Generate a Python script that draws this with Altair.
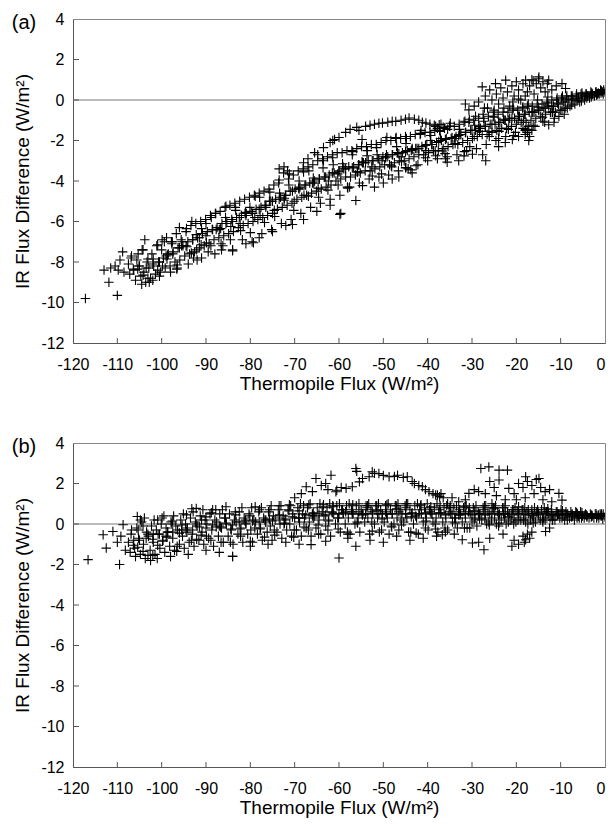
import altair as alt
import pandas as pd

x_ticks = [-120, -110, -100, -90, -80, -70, -60, -50, -40, -30, -20, -10, 0]
y_ticks = [-12, -10, -8, -6, -4, -2, 0, 2, 4]
x_title = "Thermopile Flux (W/m²)"
y_title = "IR Flux Difference (W/m²)"

# ---------------- panel (a) ----------------
a_band = [
    (-107.5,-8.1),(-107.2,-8.6),(-106.8,-7.7),(-106.3,-8.4),(-105.9,-8.9),(-105.6,-7.9),
    (-105.1,-8.2),(-104.7,-8.7),(-104.4,-7.4),(-104.0,-8.5),(-103.6,-9.0),(-103.3,-8.0),(-103.8,-6.9),
    (-102.9,-8.3),(-102.5,-8.8),(-102.2,-7.6),(-101.8,-8.2),(-101.4,-8.6),(-101.1,-7.2),
    (-100.7,-8.0),(-100.3,-8.5),(-100.0,-7.4),(-99.6,-7.8),(-99.2,-8.3),(-98.9,-6.8),(-99.4,-7.0),
    (-98.5,-7.6),(-98.1,-8.2),(-97.8,-7.0),(-97.4,-7.5),(-97.0,-8.0),(-96.7,-6.6),
    (-96.3,-7.3),(-95.9,-7.9),(-95.6,-6.9),(-96.0,-6.3),(-95.2,-7.2),(-94.8,-7.7),(-94.5,-6.5),
    (-94.1,-7.0),(-93.7,-7.6),(-93.4,-6.2),(-93.0,-6.9),(-92.6,-7.5),(-92.3,-6.1),(-92.8,-7.8),
    (-91.9,-6.8),(-91.5,-7.3),(-91.2,-6.0),(-90.8,-6.6),(-90.4,-7.2),(-90.1,-5.9),
    (-89.7,-6.5),(-89.3,-7.1),(-89.0,-5.7),(-89.5,-7.5),(-88.6,-6.4),(-88.2,-6.9),(-87.9,-5.6),
    (-87.5,-6.3),(-87.1,-6.8),(-86.8,-5.5),(-86.4,-6.1),(-86.0,-6.7),(-85.7,-5.3),(-86.2,-7.2),
    (-85.3,-6.0),(-84.9,-6.6),(-84.6,-5.2),(-84.2,-5.9),(-83.8,-6.5),(-83.5,-5.1),(-84.0,-7.4),
    (-83.1,-5.8),(-82.7,-6.3),(-82.4,-5.0),(-82.0,-5.7),(-81.6,-6.2),(-81.3,-4.9),(-81.8,-6.9),
    (-80.9,-5.6),(-80.5,-6.1),(-80.2,-4.8),(-79.8,-5.5),(-79.4,-6.0),(-79.1,-4.7),(-79.6,-7.0),
    (-78.7,-5.4),(-78.3,-5.9),(-78.0,-4.6),(-77.6,-5.3),(-77.2,-5.8),(-76.9,-4.5),(-77.4,-6.6),
    (-76.5,-5.2),(-76.1,-5.7),(-75.8,-4.4),(-75.4,-5.0),(-75.0,-5.6),(-74.7,-4.2),(-75.2,-6.4),
    (-74.3,-4.9),(-73.9,-5.4),(-73.6,-4.1),(-73.2,-4.8),(-72.8,-5.3),(-72.5,-3.6),(-73.0,-6.1),
    (-72.1,-4.7),(-71.7,-5.2),(-71.4,-3.9),(-71.0,-4.5),(-70.6,-5.1),(-70.3,-3.7),(-70.8,-5.9),
    (-69.9,-4.4),(-69.5,-4.9),(-69.2,-3.5),(-68.8,-4.3),(-68.4,-4.8),(-68.1,-3.4),(-68.6,-5.6),
    (-67.7,-4.2),(-67.3,-4.7),(-67.0,-3.3),(-66.6,-4.1),(-66.2,-4.6),(-65.9,-3.2),(-66.4,-5.3),
    (-65.5,-4.0),(-65.1,-4.5),(-64.8,-3.0),(-64.4,-3.9),(-64.0,-4.4),(-63.7,-2.9),(-64.2,-5.1),
    (-63.3,-3.8),(-62.9,-4.3),(-62.6,-2.8),(-62.2,-3.7),(-61.8,-4.2),(-61.5,-2.7),(-62.0,-4.9),
    (-61.1,-3.6),(-60.7,-4.0),(-60.4,-2.6),(-60.0,-3.5),(-59.6,-3.9),(-59.3,-2.6),(-59.8,-4.7),
    (-58.9,-3.4),(-58.5,-3.8),(-58.2,-2.5),(-57.8,-3.3),(-57.4,-3.8),(-57.1,-2.5),(-57.6,-4.3),
    (-56.7,-3.3),(-56.3,-3.7),(-56.0,-2.4),(-55.6,-3.2),(-55.2,-3.6),(-54.9,-2.3),(-55.4,-4.1),
    (-54.5,-3.1),(-54.1,-3.5),(-53.8,-2.3),(-53.4,-3.0),(-53.0,-3.5),(-52.7,-2.2),(-53.2,-3.9),
    (-52.3,-3.0),(-51.9,-3.4),(-51.6,-2.2),(-51.2,-2.9),(-50.8,-3.3),(-50.5,-2.1),(-51.0,-3.8),
    (-50.1,-2.8),(-49.7,-3.2),(-49.4,-2.0),(-49.0,-2.8),(-48.6,-3.2),(-48.3,-2.0),(-48.8,-3.7),
    (-47.9,-2.7),(-47.5,-3.1),(-47.2,-1.9),(-46.8,-2.6),(-46.4,-3.0),(-46.1,-1.9),(-46.6,-3.5),
    (-45.7,-2.6),(-45.3,-3.0),(-45.0,-1.8),(-44.6,-2.5),(-44.2,-2.9),(-43.9,-1.8),(-44.4,-3.4),
    (-43.5,-2.4),(-43.1,-2.8),(-42.8,-1.7),(-42.4,-2.4),(-42.0,-2.7),(-41.7,-1.7),(-42.2,-3.2),
    (-41.3,-2.3),(-40.9,-2.7),(-40.6,-1.6),(-40.2,-2.2),(-39.8,-2.6),(-39.5,-1.6),(-40.0,-3.0),
    (-39.1,-2.2),(-38.7,-2.5),(-38.4,-1.5),(-38.0,-2.1),(-37.6,-2.5),(-37.3,-1.5),(-37.8,-2.9),
    (-36.9,-2.0),(-36.5,-2.4),(-36.2,-1.4),(-35.8,-1.9),(-35.4,-2.3),(-35.1,-1.3),(-35.6,-2.8),
    (-34.7,-1.9),(-34.3,-2.2),(-34.0,-1.3),(-33.6,-1.8),(-33.2,-2.2),(-32.9,-1.2),(-33.4,-2.7),
    (-32.5,-1.7),(-32.1,-2.1),(-31.8,-1.1),(-31.4,-1.6),(-31.0,-2.0),(-30.7,-1.1),(-31.2,-2.5),
    (-30.3,-1.5),(-29.9,-1.9),(-29.6,-1.0),(-29.2,-1.5),(-28.8,-1.8),(-28.5,-0.9),(-29.0,-2.4),
    (-28.1,-1.4),(-27.7,-1.7),(-27.4,-0.9),(-27.0,-1.3),(-26.6,-1.7),(-26.3,-0.8),(-26.8,-2.2),
    (-25.9,-1.2),(-25.5,-1.6),(-25.2,-0.8),(-24.8,-1.2),(-24.4,-1.5),(-24.1,-0.7),(-24.6,-2.0),
    (-23.7,-1.1),(-23.3,-1.4),(-23.0,-0.6),(-22.6,-1.0),(-22.2,-1.4),(-21.9,-0.6),(-22.4,-1.8),
    (-21.5,-0.9),(-21.1,-1.3),(-20.8,-0.5),(-20.4,-0.9),(-20.0,-1.2),(-19.7,-0.5),(-20.2,-1.6),
    (-19.3,-0.8),(-18.9,-1.1),(-18.6,-0.4),(-18.2,-0.7),(-17.8,-1.1),(-17.5,-0.3),(-18.0,-1.5),
    (-17.1,-0.6),(-16.7,-1.0),(-16.4,-0.3),(-16.0,-0.6),(-15.6,-0.9),(-15.3,-0.2),(-15.8,-1.3),
    (-14.9,-0.5),(-14.5,-0.8),(-14.2,-0.2),(-13.8,-0.4),(-13.4,-0.7),(-13.1,-0.1),(-13.6,-1.1),
    (-12.7,-0.3),(-12.3,-0.6),(-12.0,0.0),(-11.6,-0.3),(-11.2,-0.6),(-10.9,0.0),(-11.4,-0.9),
    (-10.5,-0.2),(-10.1,-0.5),(-9.8,0.1),(-9.4,-0.1),(-9.0,-0.4),(-8.7,0.1),(-9.2,-0.7),
    (-8.3,0.0),(-7.9,-0.3),(-7.6,0.2),(-7.2,0.0),(-6.8,-0.2),(-6.5,0.2),
    (-6.1,0.1),(-5.7,-0.1),(-5.4,0.3),(-5.0,0.2),(-4.6,0.0),(-4.3,0.3),
    (-3.9,0.2),(-3.5,0.1),(-3.2,0.4),(-2.8,0.3),(-2.4,0.2),(-2.1,0.4),
    (-1.7,0.3),(-1.3,0.3),(-1.0,0.5),(-0.6,0.4),(-0.3,0.5),(0.0,0.4),(-0.4,0.3),
]
a_band2 = [
    (-106.9,-7.8),(-105.4,-8.35),(-104.2,-7.4),(-103.1,-8.8),(-101.9,-7.85),(-100.9,-8.4),
    (-99.9,-6.9),(-98.8,-7.85),(-97.7,-7.1),(-96.6,-8.35),(-95.5,-7.2),(-94.4,-6.35),
    (-93.3,-7.55),(-92.2,-6.65),(-91.1,-7.15),(-90.0,-6.1),(-88.9,-7.2),(-87.8,-5.6),
    (-86.7,-6.35),(-85.6,-5.8),(-84.5,-6.9),(-83.4,-5.3),(-82.3,-6.1),(-81.2,-5.6),
    (-80.1,-5.3),(-79.0,-5.8),(-77.9,-4.8),(-76.8,-6.05),(-75.7,-5.0),(-74.6,-5.45),
    (-73.5,-3.95),(-72.4,-4.95),(-71.3,-4.2),(-70.2,-5.45),(-69.1,-4.35),(-68.0,-3.55),
    (-66.9,-4.75),(-65.8,-3.85),(-64.7,-4.35),(-63.6,-3.35),(-62.5,-4.45),(-61.4,-2.85),
    (-60.3,-3.65),(-59.2,-3.15),(-58.1,-4.3),(-57.0,-2.7),(-55.9,-3.55),(-54.8,-3.05),
    (-53.7,-2.75),(-52.6,-3.3),(-51.5,-2.35),(-50.4,-3.65),(-49.3,-2.7),(-48.2,-3.25),
    (-47.1,-1.85),(-46.0,-2.8),(-44.9,-2.15),(-43.8,-3.45),(-42.7,-2.4),(-41.6,-1.65),
    (-40.5,-2.85),(-39.4,-2.0),(-38.3,-2.5),(-37.2,-1.55),(-36.1,-2.65),(-35.0,-1.3),
    (-33.9,-1.9),(-32.8,-1.45),(-31.7,-2.55),(-30.6,-0.95),(-29.5,-1.8),(-28.4,-1.3),
    (-27.3,-1.05),(-26.2,-1.55),(-25.1,-0.6),(-24.0,-1.9),(-22.9,-0.95),(-21.8,-1.45),
    (-20.7,-0.4),(-19.6,-1.0),(-18.5,-0.35),(-17.4,-1.45),(-16.3,-0.6),(-15.2,0.0),
    (-14.1,-0.85),(-13.0,-0.15),(-11.9,-0.6),(-10.8,0.1),(-9.7,-0.5),(-8.6,0.2),
    (-7.5,-0.25),(-6.4,0.3),(-5.3,-0.05),(-4.2,0.3),(-3.1,0.15),(-2.0,0.4),(-0.9,0.35),
]
a_band3 = [
    (-106.4,-8.35),(-105.3,-7.6),(-104.2,-8.65),(-103.1,-7.85),(-102.0,-8.9),(-100.9,-7.15),
    (-99.8,-8.2),(-98.7,-7.65),(-97.6,-7.0),(-96.5,-8.15),(-95.4,-7.0),(-94.3,-7.25),
    (-93.2,-6.0),(-92.1,-7.4),(-91.0,-6.35),(-89.9,-7.05),(-88.8,-5.8),(-87.7,-6.4),
    (-86.6,-7.1),(-85.5,-5.25),(-84.4,-6.25),(-83.3,-5.45),(-82.2,-6.45),(-81.1,-5.55),
    (-80.0,-6.55),(-78.9,-4.75),(-77.8,-5.7),(-76.7,-5.2),(-75.6,-4.55),(-74.5,-5.75),
    (-73.4,-4.6),(-72.3,-4.85),(-71.2,-3.65),(-70.1,-5.0),(-69.0,-4.0),(-67.9,-4.7),
    (-66.8,-3.5),(-65.7,-4.1),(-64.6,-4.8),(-63.5,-3.0),(-62.4,-4.0),(-61.3,-3.2),
    (-60.2,-4.2),(-59.1,-3.3),(-58.0,-4.35),(-56.9,-2.55),(-55.8,-3.55),(-54.7,-3.1),
    (-53.6,-2.5),(-52.5,-3.75),(-51.4,-2.7),(-50.3,-3.0),(-49.2,-1.85),(-48.1,-3.3),
    (-47.0,-2.3),(-45.9,-3.05),(-44.8,-1.9),(-43.7,-2.5),(-42.6,-3.25),(-41.5,-1.5),
    (-40.4,-2.5),(-39.3,-1.75),(-38.2,-2.75),(-37.1,-1.9),(-36.0,-2.9),(-34.9,-1.15),
    (-33.8,-2.15),(-32.7,-1.7),(-31.6,-1.05),(-30.5,-2.3),(-29.4,-1.25),(-28.3,-1.55),
    (-27.2,-0.4),(-26.1,-1.8),(-25.0,-0.85),(-23.9,-1.55),(-22.8,-0.4),(-21.7,-1.0),
    (-20.6,-1.75),(-19.5,0.05),(-18.4,-1.0),(-17.3,-0.2),(-16.2,-1.25),(-15.1,-0.35),
    (-14.0,-1.05),(-12.9,0.15),(-11.8,-0.6),(-10.7,-0.15),(-9.6,0.2),(-8.5,-0.4),
    (-7.4,0.2),(-6.3,-0.05),(-5.2,0.35),(-4.1,0.1),(-3.0,0.35),(-1.9,0.25),(-0.8,0.45),
]
a_core = [
    (-105.0,-8.2),(-103.5,-8.3),(-102.0,-8.1),(-100.5,-8.0),(-99.0,-7.7),(-97.5,-7.6),
    (-96.0,-7.3),(-94.5,-7.2),(-93.0,-6.9),(-91.5,-6.8),(-90.0,-6.7),(-88.5,-6.4),
    (-87.0,-6.4),(-85.5,-6.1),(-84.0,-6.0),(-82.5,-5.8),(-81.0,-5.7),(-79.5,-5.6),
    (-78.0,-5.4),(-76.5,-5.3),(-75.0,-5.0),(-73.5,-4.9),(-72.0,-4.7),(-70.5,-4.5),
    (-69.0,-4.4),(-67.5,-4.2),(-66.0,-4.1),(-64.5,-3.9),(-63.0,-3.8),(-61.5,-3.6),
    (-60.0,-3.55),(-58.5,-3.4),(-57.0,-3.35),(-55.5,-3.2),(-54.0,-3.1),(-52.5,-3.0),
    (-51.0,-2.9),(-49.5,-2.85),(-48.0,-2.7),(-46.5,-2.65),(-45.0,-2.55),(-43.5,-2.45),
    (-42.0,-2.4),(-40.5,-2.25),(-39.0,-2.2),(-37.5,-2.05),(-36.0,-1.95),(-34.5,-1.85),
    (-33.0,-1.75),(-31.5,-1.6),(-30.0,-1.5),(-28.5,-1.4),(-27.0,-1.3),(-25.5,-1.2),
    (-24.0,-1.1),(-22.5,-1.0),(-21.0,-0.9),(-19.5,-0.8),(-18.0,-0.7),(-16.5,-0.6),
    (-15.0,-0.5),(-13.5,-0.4),(-12.0,-0.3),(-10.5,-0.2),(-9.0,-0.1),(-7.5,0.05),
    (-6.0,0.1),(-4.5,0.2),(-3.0,0.25),(-1.5,0.35),
]
a_outliers = [
    (-117.2,-9.8),(-110.0,-9.65),(-111.9,-9.0),(-113.0,-8.4),(-111.5,-8.3),(-110.5,-8.2),
    (-109.4,-7.9),(-108.8,-7.5),(-108.5,-8.5),(-109.8,-8.4),
    (-104.5,-9.1),(-102.8,-9.0),(-100.5,-8.7),(-96.5,-8.3),(-91.0,-7.8),(-86.5,-7.4),
    (-79.3,-7.05),(-72.0,-6.2),(-59.8,-5.65),(-56.2,-4.96),(-54.7,-4.23),(-45.0,-3.35),
    (-73.5,-3.4),(-72.4,-3.3),(-71.6,-3.5),(-61.4,-2.0),
    (-29.9,-2.68),(-26.9,-3.0),(-27.6,-2.7),(-31.8,-2.76),(-33.0,-3.0),(-35.6,-3.07),
    (-36.7,-2.52),(-44.9,-3.33),(-43.5,-3.6),(-24.0,-2.3),(-22.5,-2.1),(-59.6,-5.6),
    (-52.0,-4.3),(-50.0,-4.1),(-48.0,-3.9),(-46.5,-3.8),(-62.0,-5.2),(-65.0,-5.5),
    (-68.0,-5.9),(-70.5,-6.15),(-75.0,-6.5),(-78.0,-6.8),(-81.0,-7.1),(-84.0,-7.45),
    (-88.0,-7.6),(-92.0,-7.9),(-94.0,-8.1),(-98.0,-8.5),
]
a_hump = [
    (-68.0,-3.1),(-67.0,-2.9),(-65.5,-2.6),(-64.8,-2.7),(-63.5,-2.35),(-62.0,-2.1),
    (-61.0,-1.95),(-60.0,-1.85),(-58.5,-1.6),(-57.5,-1.45),(-56.0,-1.35),(-55.5,-1.5),
    (-54.8,-1.95),(-54.0,-1.3),(-53.0,-1.25),(-52.0,-1.2),(-51.0,-1.15),(-50.2,-1.14),
    (-49.0,-1.1),(-48.0,-1.05),(-47.2,-1.06),(-46.0,-1.0),(-45.0,-0.95),(-44.2,-0.89),
    (-43.0,-0.95),(-42.0,-1.0),(-41.2,-1.1),(-40.4,-1.14),(-39.5,-1.2),(-38.5,-1.25),
    (-37.4,-1.22),(-36.5,-1.35),(-35.5,-1.45),(-37.8,-1.4),(-38.2,-1.3),(-37.0,-1.2),
]
a_cluster = [
    (-31.5,-0.2),(-30.7,-0.49),(-29.5,-0.3),(-29.2,-0.8),(-28.5,-0.1),(-27.7,0.65),
    (-27.0,0.2),(-26.5,-0.4),(-26.0,0.5),(-25.5,0.0),(-24.7,0.81),(-24.5,0.3),
    (-24.0,-0.2),(-23.5,0.6),(-23.0,0.1),(-22.4,0.98),(-22.0,0.4),(-21.5,-0.3),
    (-21.0,0.7),(-20.5,0.2),(-20.0,0.9),(-19.5,0.5),(-19.0,0.0),(-18.5,0.8),
    (-17.9,0.98),(-17.5,0.4),(-17.0,0.7),(-16.5,1.0),(-16.0,0.3),(-15.5,0.8),
    (-14.9,1.14),(-14.5,0.6),(-14.0,0.9),(-13.5,0.4),(-13.0,0.8),(-12.7,0.98),
    (-12.0,0.5),(-11.0,0.7),(-9.7,0.81),(-8.9,0.57),(-15.0,1.05),(-16.2,0.95),
    (-18.0,0.2),(-20.8,-0.1),(-25.0,-0.5),(-27.5,-0.7),
    (-18.5,-1.4),(-17.9,-1.46),(-17.5,-1.6),(-17.0,-1.8),(-16.5,-1.5),(-18.0,-1.7),
    (-17.2,-1.3),(-20.9,-1.95),(-17.2,-2.0),(-12.7,-1.22),(-10.4,-0.81),(-11.5,-1.1),
    (-19.5,-1.8),
]

# ---------------- panel (b) ----------------
b_band = [
    (-107.5,-0.9),(-107.1,-1.4),(-106.8,-0.3),(-106.3,-0.8),(-105.9,-1.6),(-105.6,-0.2),(-106.1,-1.2),
    (-105.2,-0.7),(-104.8,-1.5),(-104.5,0.1),(-104.1,-1.0),(-103.7,-1.7),(-103.4,-0.4),(-103.9,0.3),
    (-103.0,-0.6),(-102.6,-1.3),(-102.3,-0.1),(-101.9,-0.9),(-101.5,-1.5),(-101.2,-0.3),(-101.7,0.2),
    (-100.8,-0.5),(-100.4,-1.2),(-100.1,0.0),(-99.7,-0.8),(-99.3,-1.4),(-99.0,-0.2),(-99.5,0.4),
    (-98.6,-0.4),(-98.2,-1.1),(-97.9,0.1),(-97.5,-0.7),(-97.1,-1.3),(-96.8,-0.1),(-97.3,0.4),
    (-96.4,-0.3),(-96.0,-1.0),(-95.7,0.2),(-95.3,-0.6),(-94.9,-1.2),(-94.6,0.0),(-95.1,0.5),
    (-94.2,-0.2),(-93.8,-0.9),(-93.5,0.3),(-93.1,-0.5),(-92.7,-1.1),(-92.4,0.1),(-92.9,0.6),
    (-92.0,-0.1),(-91.6,-0.8),(-91.3,0.4),(-90.9,-0.4),(-90.5,-1.0),(-90.2,0.2),(-90.7,0.7),
    (-89.8,0.0),(-89.4,-0.7),(-89.1,0.5),(-88.7,-0.3),(-88.3,-1.1),(-88.0,0.2),(-88.5,0.7),
    (-87.6,0.1),(-87.2,-0.6),(-86.9,0.5),(-86.5,-0.2),(-86.1,-0.9),(-85.8,0.3),(-86.3,0.7),
    (-85.4,0.0),(-85.0,-0.6),(-84.7,0.5),(-84.3,-0.3),(-83.9,-1.0),(-83.6,0.2),(-84.0,-1.6),
    (-83.2,0.1),(-82.8,-0.5),(-82.5,0.6),(-82.1,-0.2),(-81.7,-0.9),(-81.4,0.3),(-81.9,0.8),
    (-81.0,0.0),(-80.6,-0.5),(-80.3,0.5),(-79.9,-0.3),(-79.5,-0.9),(-79.2,0.2),(-79.7,0.8),
    (-78.8,0.1),(-78.4,-0.5),(-78.1,0.6),(-77.7,-0.2),(-77.3,-0.8),(-77.0,0.3),(-77.5,0.8),
    (-76.6,0.1),(-76.2,-0.4),(-75.9,0.6),(-75.5,-0.1),(-75.1,-0.8),(-74.8,0.4),(-75.3,0.9),
    (-74.4,0.2),(-74.0,-0.4),(-73.7,0.7),(-73.3,0.0),(-72.9,-0.7),(-72.6,0.4),(-73.1,0.9),
    (-72.2,0.2),(-71.8,-0.3),(-71.5,0.7),(-71.1,0.0),(-70.7,-0.6),(-70.4,0.5),(-70.9,0.9),
    (-70.0,0.3),(-69.6,-0.3),(-69.3,0.8),(-68.9,0.1),(-68.5,-0.6),(-68.2,0.5),(-68.7,1.0),
    (-67.8,0.3),(-67.4,-0.2),(-67.1,0.8),(-66.7,0.1),(-66.3,-0.6),(-66.0,0.5),(-66.5,1.0),
    (-65.6,0.4),(-65.2,-0.2),(-64.9,0.8),(-64.5,0.2),(-64.1,-0.5),(-63.8,0.6),(-64.3,1.0),
    (-63.4,0.4),(-63.0,-0.1),(-62.7,0.8),(-62.3,0.2),(-61.9,-0.6),(-61.6,0.6),(-62.1,1.0),
    (-61.2,0.5),(-60.8,0.0),(-60.5,0.9),(-60.1,0.3),(-59.7,-0.4),(-59.4,0.7),(-59.9,1.0),
    (-59.0,0.5),(-58.6,0.0),(-58.3,0.9),(-57.9,0.3),(-57.5,-0.5),(-57.2,0.7),(-57.7,1.0),
    (-56.8,0.5),(-56.4,0.0),(-56.1,0.9),(-55.7,0.3),(-55.3,-0.4),(-55.0,0.7),(-55.5,1.0),
    (-54.6,0.5),(-54.2,0.1),(-53.9,0.9),(-53.5,0.3),(-53.1,-0.5),(-52.8,0.7),(-53.3,1.0),
    (-52.4,0.5),(-52.0,0.0),(-51.7,0.9),(-51.3,0.3),(-50.9,-0.4),(-50.6,0.7),(-51.1,1.0),
    (-50.2,0.5),(-49.8,0.1),(-49.5,0.9),(-49.1,0.3),(-48.7,-0.5),(-48.4,0.7),(-48.9,1.0),
    (-48.0,0.5),(-47.6,0.0),(-47.3,0.9),(-46.9,0.3),(-46.5,-0.3),(-46.2,0.7),(-46.7,1.0),
    (-45.8,0.5),(-45.4,0.1),(-45.1,0.9),(-44.7,0.3),(-44.3,-0.4),(-44.0,0.7),(-44.5,1.0),
    (-43.6,0.5),(-43.2,0.0),(-42.9,0.9),(-42.5,0.3),(-42.1,-0.5),(-41.8,0.7),(-42.3,1.0),
    (-41.4,0.5),(-41.0,0.1),(-40.7,0.8),(-40.3,0.3),(-39.9,-0.3),(-39.6,0.7),(-40.1,1.0),
    (-39.2,0.5),(-38.8,0.1),(-38.5,0.8),(-38.1,0.3),(-37.7,-0.4),(-37.4,0.7),(-37.9,1.0),
    (-37.0,0.5),(-36.6,0.1),(-36.3,0.8),(-35.9,0.3),(-35.5,-0.3),(-35.2,0.6),(-35.7,0.9),
    (-34.8,0.5),(-34.4,0.1),(-34.1,0.8),(-33.7,0.3),(-33.3,-0.2),(-33.0,0.6),(-33.5,0.9),
    (-32.6,0.5),(-32.2,0.1),(-31.9,0.8),(-31.5,0.3),(-31.1,-0.2),(-30.8,0.6),(-31.3,0.9),
    (-30.4,0.5),(-30.0,0.1),(-29.7,0.8),(-29.3,0.3),(-28.9,-0.1),(-28.6,0.6),(-29.1,0.9),
    (-28.2,0.5),(-27.8,0.2),(-27.5,0.8),(-27.1,0.3),(-26.7,0.0),(-26.4,0.6),(-26.9,0.9),
    (-26.0,0.5),(-25.6,0.2),(-25.3,0.8),(-24.9,0.3),(-24.5,0.0),(-24.2,0.6),(-24.7,0.9),
    (-23.8,0.5),(-23.4,0.2),(-23.1,0.8),(-22.7,0.3),(-22.3,0.0),(-22.0,0.6),(-22.5,0.9),
    (-21.6,0.5),(-21.2,0.2),(-20.9,0.7),(-20.5,0.3),(-20.1,0.1),(-19.8,0.6),(-20.3,0.8),
    (-19.4,0.5),(-19.0,0.2),(-18.7,0.7),(-18.3,0.3),(-17.9,0.1),(-17.6,0.6),(-18.1,0.8),
    (-17.2,0.5),(-16.8,0.2),(-16.5,0.7),(-16.1,0.3),(-15.7,0.1),(-15.4,0.6),(-15.9,0.8),
    (-15.0,0.5),(-14.6,0.2),(-14.3,0.7),(-13.9,0.3),(-13.5,0.2),(-13.2,0.6),(-13.7,0.8),
    (-12.8,0.5),(-12.4,0.3),(-12.1,0.7),(-11.7,0.4),(-11.3,0.2),(-11.0,0.6),
    (-10.6,0.5),(-10.2,0.3),(-9.9,0.7),(-9.5,0.4),(-9.1,0.2),(-8.8,0.6),
    (-8.4,0.5),(-8.0,0.3),(-7.7,0.6),(-7.3,0.4),(-6.9,0.2),(-6.6,0.6),
    (-6.2,0.5),(-5.8,0.3),(-5.5,0.6),(-5.1,0.4),(-4.7,0.3),(-4.4,0.5),
    (-4.0,0.4),(-3.6,0.3),(-3.3,0.5),(-2.9,0.4),(-2.5,0.3),(-2.2,0.5),
    (-1.8,0.4),(-1.4,0.3),(-1.1,0.5),(-0.7,0.4),(-0.4,0.5),(0.0,0.35),(-0.5,0.25),
]
b_band2 = [
    (-106.9,-0.5),(-105.4,-1.15),(-104.2,-0.1),(-103.1,-1.55),(-101.9,-0.5),(-100.9,-1.05),
    (-99.9,0.3),(-98.8,-0.65),(-97.7,0.0),(-96.6,-1.35),(-95.5,-0.3),(-94.4,0.45),
    (-93.3,-0.8),(-92.2,0.0),(-91.1,-0.55),(-90.0,0.35),(-88.9,-0.8),(-87.8,0.7),
    (-86.7,-0.15),(-85.6,0.3),(-84.5,-0.9),(-83.4,0.6),(-82.3,-0.25),(-81.2,0.15),
    (-80.1,0.4),(-79.0,-0.2),(-77.9,0.7),(-76.8,-0.65),(-75.7,0.25),(-74.6,-0.3),
    (-73.5,0.9),(-72.4,0.0),(-71.3,0.65),(-70.2,-0.65),(-69.1,0.3),(-68.0,0.9),
    (-66.9,-0.3),(-65.8,0.55),(-64.7,-0.05),(-63.6,0.85),(-62.5,-0.3),(-61.4,0.9),
    (-60.3,0.3),(-59.2,0.7),(-58.1,-0.4),(-57.0,0.6),(-55.9,0.1),(-54.8,0.5),
    (-53.7,0.8),(-52.6,0.1),(-51.5,0.9),(-50.4,-0.3),(-49.3,0.5),(-48.2,-0.1),
    (-47.1,0.9),(-46.0,0.2),(-44.9,0.8),(-43.8,-0.4),(-42.7,0.4),(-41.6,0.9),
    (-40.5,-0.2),(-39.4,0.6),(-38.3,0.0),(-37.2,0.9),(-36.1,-0.2),(-35.0,0.8),
    (-33.9,0.3),(-32.8,0.7),(-31.7,-0.2),(-30.6,0.8),(-29.5,0.2),(-28.4,0.5),
    (-27.3,0.7),(-26.2,0.1),(-25.1,0.8),(-24.0,-0.1),(-22.9,0.5),(-21.8,0.1),
    (-20.7,0.7),(-19.6,0.2),(-18.5,0.7),(-17.4,0.0),(-16.3,0.4),(-15.2,0.7),
    (-14.1,0.2),(-13.0,0.6),(-11.9,0.2),(-10.8,0.6),(-9.7,0.3),(-8.6,0.5),
    (-7.5,0.35),(-6.4,0.55),(-5.3,0.3),(-4.2,0.45),(-3.1,0.35),(-2.0,0.5),(-0.9,0.4),
]
b_band3 = [
    (-106.4,-1.05),(-105.3,-0.3),(-104.2,-1.35),(-103.1,-0.5),(-102.0,-1.55),(-100.9,0.2),
    (-99.8,-0.85),(-98.7,-0.4),(-97.6,0.15),(-96.5,-1.1),(-95.4,-0.05),(-94.3,-0.4),
    (-93.2,0.75),(-92.1,-0.75),(-91.0,0.2),(-89.9,-0.6),(-88.8,0.55),(-87.7,-0.15),
    (-86.6,-0.9),(-85.5,0.85),(-84.4,-0.25),(-83.3,0.45),(-82.2,-0.6),(-81.1,0.2),
    (-80.0,-0.85),(-78.9,0.85),(-77.8,-0.25),(-76.7,0.2),(-75.6,0.7),(-74.5,-0.55),
    (-73.4,0.45),(-72.3,0.05),(-71.2,0.95),(-70.1,-0.3),(-69.0,0.65),(-67.9,-0.15),
    (-66.8,0.95),(-65.7,0.3),(-64.6,-0.5),(-63.5,0.95),(-62.4,0.15),(-61.3,0.85),
    (-60.2,-0.25),(-59.1,0.55),(-58.0,-0.5),(-56.9,0.95),(-55.8,0.05),(-54.7,0.45),
    (-53.6,0.9),(-52.5,-0.35),(-51.4,0.65),(-50.3,0.25),(-49.2,0.95),(-48.1,-0.15),
    (-47.0,0.75),(-45.9,-0.05),(-44.8,1.0),(-43.7,0.35),(-42.6,-0.45),(-41.5,0.95),
    (-40.4,0.15),(-39.3,0.85),(-38.2,-0.25),(-37.1,0.55),(-36.0,-0.4),(-34.9,0.9),
    (-33.8,0.05),(-32.7,0.45),(-31.6,0.85),(-30.5,-0.2),(-29.4,0.65),(-28.3,0.25),
    (-27.2,0.9),(-26.1,-0.05),(-25.0,0.75),(-23.9,0.05),(-22.8,0.8),(-21.7,0.35),
    (-20.6,0.0),(-19.5,0.85),(-18.4,0.2),(-17.3,0.7),(-16.2,0.05),(-15.1,0.55),
    (-14.0,0.1),(-12.9,0.75),(-11.8,0.2),(-10.7,0.45),(-9.6,0.65),(-8.5,0.2),
    (-7.4,0.5),(-6.3,0.3),(-5.2,0.55),(-4.1,0.35),(-3.0,0.45),(-1.9,0.3),(-0.8,0.5),
]
b_core = [
    (-105.0,-0.8),(-103.5,-0.7),(-102.0,-0.75),(-100.5,-0.5),(-99.0,-0.6),(-97.5,-0.4),
    (-96.0,-0.45),(-94.5,-0.3),(-93.0,-0.3),(-91.5,-0.15),(-90.0,-0.2),(-88.5,-0.05),
    (-87.0,-0.1),(-85.5,0.05),(-84.0,-0.05),(-82.5,0.1),(-81.0,0.05),(-79.5,0.15),
    (-78.0,0.1),(-76.5,0.2),(-75.0,0.15),(-73.5,0.3),(-72.0,0.25),(-70.5,0.35),
    (-69.0,0.3),(-67.5,0.45),(-66.0,0.4),(-64.5,0.5),(-63.0,0.45),(-61.5,0.55),
    (-60.0,0.5),(-58.5,0.6),(-57.0,0.5),(-55.5,0.6),(-54.0,0.5),(-52.5,0.6),
    (-51.0,0.5),(-49.5,0.6),(-48.0,0.5),(-46.5,0.6),(-45.0,0.5),(-43.5,0.55),
    (-42.0,0.5),(-40.5,0.55),(-39.0,0.5),(-37.5,0.55),(-36.0,0.45),(-34.5,0.5),
    (-33.0,0.45),(-31.5,0.5),(-30.0,0.45),(-28.5,0.5),(-27.0,0.45),(-25.5,0.5),
    (-24.0,0.45),(-22.5,0.5),(-21.0,0.45),(-19.5,0.5),(-18.0,0.45),(-16.5,0.5),
    (-15.0,0.45),(-13.5,0.5),(-12.0,0.45),(-10.5,0.5),(-9.0,0.45),(-7.5,0.45),
    (-6.0,0.4),(-4.5,0.45),(-3.0,0.4),(-1.5,0.45),
]
b_outliers = [
    (-116.6,-1.76),(-109.5,-2.0),(-112.5,-1.19),(-113.2,-0.53),(-111.0,-0.37),(-108.7,-0.04),
    (-110.0,-0.9),(-109.2,-0.6),(-108.2,-1.3),(-105.5,0.37),(-104.8,0.2),(-92.2,0.77),
    (-84.0,-1.6),(-60.0,-1.68),(-66.3,-1.02),(-56.2,-1.1),(-63.0,-0.85),(-36.7,-0.53),
    (-32.2,-0.78),(-29.9,-0.94),(-27.3,-1.27),(-28.5,-0.9),(-26.0,-0.7),(-23.0,-0.5),
    (-20.5,-0.8),(-18.5,-0.6),(-17.9,-0.78),(-18.2,-0.9),(-17.5,-0.5),(-17.0,-0.7),
    (-16.5,-0.4),(-19.5,-1.0),(-21.0,-1.1),(-13.4,-0.37),(-12.5,-0.2),(-101.0,-1.7),
    (-102.5,-1.8),(-98.0,-1.6),(-94.0,-1.5),(-90.0,-1.3),(-87.0,-1.4),(-80.0,-1.1),
    (-76.0,-1.0),(-72.0,-0.9),(-69.0,-1.0),(-58.0,-0.7),(-53.0,-0.8),(-50.0,-0.9),
    (-47.0,-0.6),(-44.0,-0.8),(-41.0,-0.7),(-38.0,-0.6),(-34.0,-0.5),
]
b_hump = [
    (-67.4,1.84),(-66.0,1.6),(-65.2,2.25),(-64.0,1.9),(-63.0,2.0),(-61.8,2.41),(-60.7,1.59),
    (-60.5,1.67),(-59.5,1.8),(-58.4,1.76),(-57.0,1.84),(-56.2,2.74),(-56.0,2.6),(-55.4,2.08),
    (-54.7,2.25),(-53.2,2.33),(-52.5,2.58),(-52.0,2.5),(-51.0,2.49),(-50.0,2.4),(-48.7,2.33),
    (-47.5,2.35),(-46.8,2.41),(-45.5,2.3),(-44.6,2.33),(-43.5,2.1),(-43.0,2.0),(-42.0,1.9),
    (-41.2,1.84),(-40.5,1.7),(-39.7,1.59),(-38.8,1.5),(-38.2,1.43),(-37.8,1.43),(-37.3,1.35),
    (-37.0,1.5),(-36.5,1.3),(-70.0,1.3),(-68.5,1.5),(-62.5,1.7),
]
b_cluster = [
    (-28.0,2.74),(-26.2,2.82),(-23.9,2.66),(-22.0,2.66),(-17.9,2.33),(-14.9,2.25),(-23.9,2.17),
    (-30.7,1.51),(-29.5,1.7),(-28.5,1.6),(-27.0,1.5),(-26.0,2.1),(-25.0,1.8),(-24.5,1.4),
    (-21.7,1.76),(-20.5,1.5),(-19.5,2.0),(-18.5,1.8),(-17.5,2.1),(-16.5,1.9),(-16.0,1.5),
    (-15.5,2.2),(-14.5,1.8),(-13.5,1.6),(-12.5,1.7),(-10.4,1.51),(-9.7,1.18),(-20.0,1.2),
    (-22.5,1.2),(-18.0,1.3),(-14.0,1.2),(-12.0,1.1),(-25.5,1.0),(-31.5,1.2),(-33.0,1.1),
    (-34.5,1.3),(-35.5,1.0),
]

W = 532
PLUS = "M-1,0L1,0M0,-1L0,1"
FONT = "Liberation Sans"


def panel(points, label, H):
    df = pd.DataFrame(points, columns=["flux", "diff"])
    xs = alt.Scale(domain=[-120, 0], nice=False, zero=False)
    ys = alt.Scale(domain=[-12, 4], nice=False, zero=False)
    xax = alt.Axis(values=x_ticks, title=x_title, ticks=False, grid=False,
                   labelPadding=13, titlePadding=2, labelFlush=False,
                   labelExpr="'' + datum.value",
                   labelAlign={"condition": {"test": "datum.value == 0", "value": "right"},
                               "value": "center"})
    yax = alt.Axis(values=y_ticks, title=y_title, ticks=False, grid=False,
                   labelPadding=9, titlePadding=8, labelExpr="'' + datum.value")
    zero = alt.Chart(pd.DataFrame({"diff": [0]})).mark_rule(
        color="#777", strokeWidth=1).encode(y=alt.Y("diff:Q", scale=ys, axis=yax))
    pts = alt.Chart(df).mark_point(
        shape=PLUS, size=90, filled=False, color="black", strokeWidth=1.1,
        opacity=1, clip=True
    ).encode(
        x=alt.X("flux:Q", scale=xs, axis=xax),
        y=alt.Y("diff:Q", scale=ys, axis=yax),
    )
    xt = alt.Chart(pd.DataFrame({"flux": x_ticks[1:-1]})).mark_rule(
        color="#555").encode(x=alt.X("flux:Q", scale=xs, axis=xax),
                             y=alt.value(H), y2=alt.value(H - 5))
    yt = alt.Chart(pd.DataFrame({"diff": y_ticks[1:-1]})).mark_rule(
        color="#555").encode(y=alt.Y("diff:Q", scale=ys, axis=yax),
                             x=alt.value(0), x2=alt.value(6))
    lab = alt.Chart(pd.DataFrame({"lab": [label]})).mark_text(
        font=FONT, fontSize=20, align="center", baseline="middle", color="black"
    ).encode(text="lab:N", x=alt.value(-49), y=alt.value(4))
    return alt.layer(zero, xt, yt, pts, lab).properties(width=W, height=H)


chart = alt.vconcat(
    panel(a_band + a_band2 + a_band3 + a_core + a_outliers + a_hump + a_cluster, "(a)", 324),
    panel(b_band + b_band2 + b_band3 + b_core + b_outliers + b_hump + b_cluster, "(b)", 324),
    spacing=40,
).configure_view(stroke="#888", strokeWidth=1).configure_axis(
    labelFont=FONT, labelFontSize=16, labelColor="black",
    titleFont=FONT, titleFontSize=19, titleFontWeight="normal", titleColor="black",
    domainColor="#555", domainWidth=1,
).properties(padding={"left": 3, "top": 2, "right": 0, "bottom": 0})

chart.save("out.html", embed_options={"renderer": "svg", "actions": False})
